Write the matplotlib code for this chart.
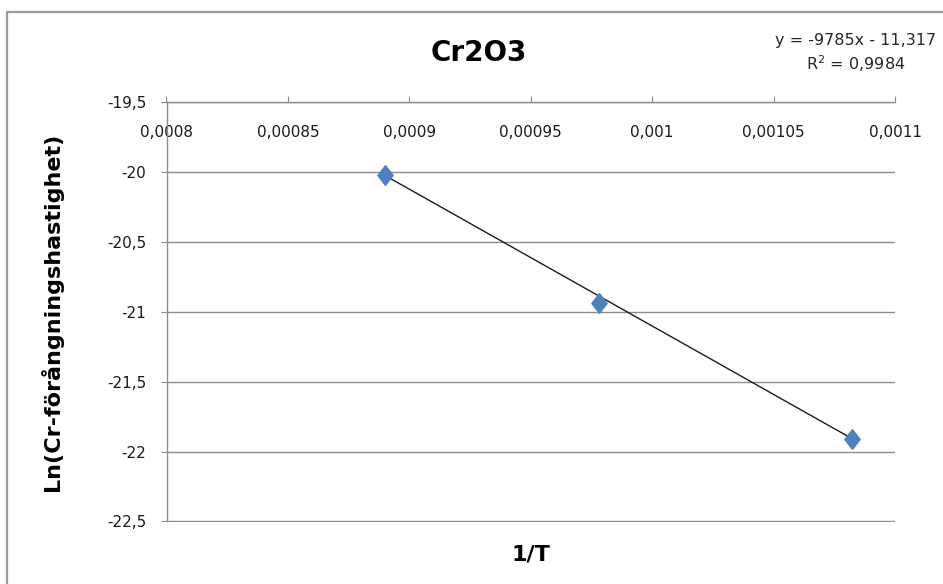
import numpy as np
import matplotlib.pyplot as plt
from matplotlib.patches import Rectangle
from matplotlib.path import Path
from matplotlib.ticker import FuncFormatter

plt.rcParams['font.family'] = ['DejaVu Sans']

inv_T = [0.00089, 0.000978, 0.0010824]
ln_rate = [-20.02, -20.94, -21.91]
slope = -9785
intercept = -11.317
r2 = 0.9984

fig = plt.figure(figsize=(9.43, 5.84), dpi=100)
# chart border (excel style)
fig.patches.append(Rectangle((7.5 / 943, -0.1), 1.1, 1 - 11.5 / 584 + 0.1,
                             transform=fig.transFigure, fill=False,
                             edgecolor='#9a9a9a', linewidth=1.6))

ax = fig.add_axes([166.5 / 943, 1 - 521.5 / 584, (895 - 166.5) / 943, (521.5 - 102) / 584])

ax.set_xlim(0.0008, 0.0011)
ax.set_ylim(-22.5, -19.5)
ax.set_xticks(np.arange(0.0008, 0.00111, 0.00005))
ax.set_yticks(np.arange(-22.5, -19.4, 0.5))

def comma(v, pos):
    s = ('%.5f' % v).rstrip('0').rstrip('.')
    return s.replace('.', ',')

ax.xaxis.set_major_formatter(FuncFormatter(comma))
ax.yaxis.set_major_formatter(FuncFormatter(comma))

ax.grid(axis='y', color='#8c8c8c', linewidth=1.0)
ax.set_axisbelow(True)
for s in ['right', 'bottom']:
    ax.spines[s].set_visible(False)
for s in ['left', 'top']:
    ax.spines[s].set_color('#8c8c8c')
    ax.spines[s].set_linewidth(1.0)

ax.xaxis.set_ticks_position('top')
ax.tick_params(axis='x', direction='out', length=4.5, color='#8c8c8c',
               labeltop=True, labelbottom=False, labelsize=11, pad=-32,
               labelcolor='#1a1a1a')
ax.tick_params(axis='y', direction='out', length=4.5, color='#8c8c8c',
               labelsize=11, pad=10, labelcolor='#1a1a1a')

# tall diamond like excel's marker
diamond = Path([(0, 1), (0.78, 0), (0, -1), (-0.78, 0), (0, 1)],
               [Path.MOVETO, Path.LINETO, Path.LINETO, Path.LINETO, Path.CLOSEPOLY])

xs = np.array([min(inv_T), max(inv_T)])
ax.plot(xs, slope * xs + intercept, color='#1a1a1a', linewidth=1.0, zorder=3)
ax.scatter(inv_T, ln_rate, marker=diamond, s=200, color='#4f81bd', zorder=4)

fig.text(479 / 943, 1 - 53 / 584, 'Cr2O3', ha='center', va='center',
         fontsize=20, fontweight='bold')
ax.set_xlabel('1/T', fontsize=16, fontweight='bold')
ax.xaxis.set_label_coords((531 - 166.5) / 728.5, -0.055)
ax.set_ylabel('Ln(Cr-förångningshastighet)', fontsize=16, fontweight='bold')
ax.yaxis.set_label_coords((63 - 166.5) / 728.5, 0.5)

fig.text(856 / 943, 1 - 40 / 584, 'y = -9785x - 11,317', ha='center', va='center',
         fontsize=11.5, color='#262626')
fig.text(856 / 943, 1 - 64 / 584, 'R$^2$ = ' + ('%.4f' % r2).replace('.', ','),
         ha='center', va='center', fontsize=11.5, color='#262626')

fig.savefig('out.png', dpi=100)
